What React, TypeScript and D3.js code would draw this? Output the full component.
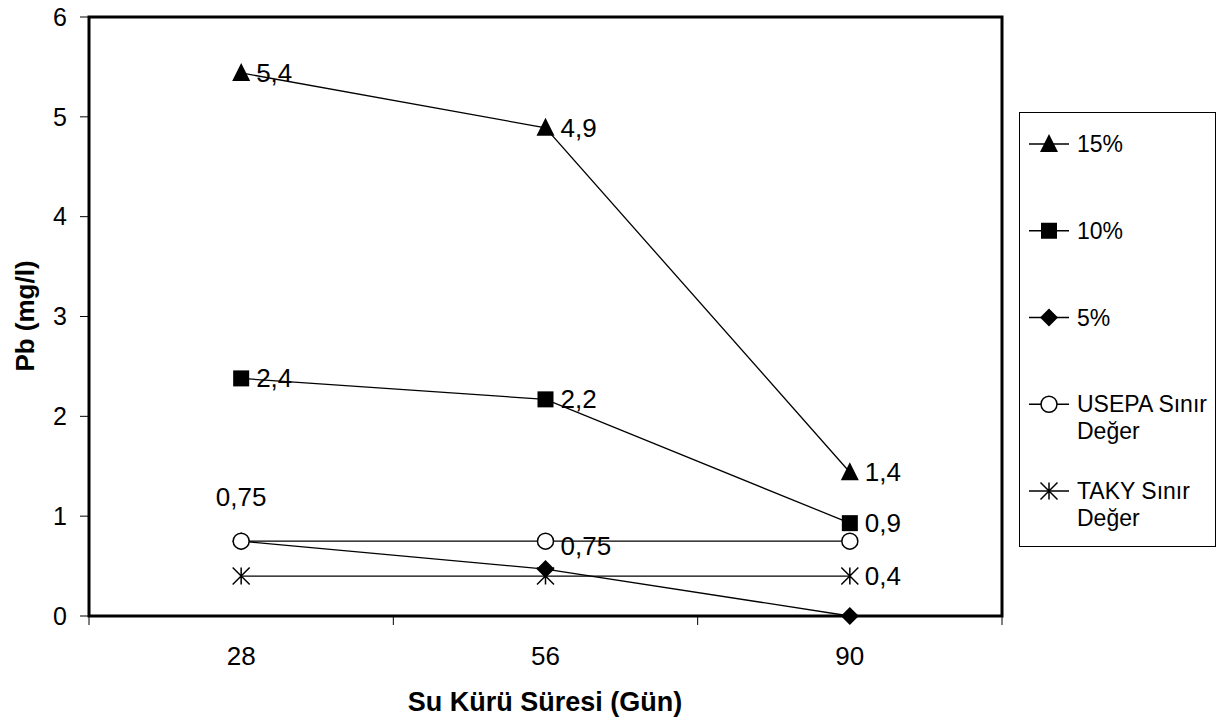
import React, { useEffect, useRef } from "react";
import * as d3 from "d3";

// Su kürü süreleri (gün)
const days = ["28", "56", "90"];
const yTicks = [0, 1, 2, 3, 4, 5, 6];

const pb15 = [5.44, 4.89, 1.44];
const pb10 = [2.38, 2.17, 0.93];
const pb5 = [0.75, 0.47, 0.0];
const usepa = [0.75, 0.75, 0.75];
const taky = [0.4, 0.4, 0.4];

const labels15 = ["5,4", "4,9", "1,4"];
const labels10 = ["2,4", "2,2", "0,9"];
const labelsUsepa = ["0,75", "0,75", ""];
const labelsTaky = ["", "", "0,4"];

const legendNames = ["15%", "10%", "5%", "USEPA Sınır|Değer", "TAKY Sınır|Değer"];

const FONT = "'Liberation Sans', Arial, sans-serif";

const App = () => {
  const svgRef: any = useRef();

  useEffect(() => {
    const svg = d3.select(svgRef.current);
    svg.selectAll("*").remove();
    const width = 1218;
    const height = 720;
    const margin = { top: 17, right: 216, bottom: 104, left: 89 };
    svg.attr("width", width).attr("height", height);

    const x = d3
      .scaleBand()
      .domain(days)
      .range([margin.left, width - margin.right]);
    const y = d3
      .scaleLinear()
      .domain([0, 6])
      .range([height - margin.bottom, margin.top]);
    const cx = (d: string) => (x(d) as number) + x.bandwidth() / 2;

    // y axis ticks + labels
    const yAxis = svg.append("g");
    yTicks.forEach((t) => {
      yAxis
        .append("line")
        .attr("x1", margin.left - 9)
        .attr("x2", margin.left)
        .attr("y1", y(t))
        .attr("y2", y(t))
        .attr("stroke", "#000")
        .attr("stroke-width", 1);
      yAxis
        .append("text")
        .attr("x", margin.left - 22)
        .attr("y", y(t))
        .attr("dy", "0.35em")
        .attr("text-anchor", "end")
        .attr("font-family", FONT)
        .attr("font-size", 25)
        .text(t);
    });

    // x axis ticks (band edges) + labels
    const edges = days.map((d) => x(d) as number).concat([width - margin.right]);
    edges.forEach((e) => {
      svg
        .append("line")
        .attr("x1", e)
        .attr("x2", e)
        .attr("y1", y(0))
        .attr("y2", y(0) + 9)
        .attr("stroke", "#000")
        .attr("stroke-width", 1);
    });
    days.forEach((d) => {
      svg
        .append("text")
        .attr("x", cx(d))
        .attr("y", y(0) + 40)
        .attr("dy", "0.35em")
        .attr("text-anchor", "middle")
        .attr("font-family", FONT)
        .attr("font-size", 26)
        .text(d);
    });

    // plot frame
    svg
      .append("rect")
      .attr("x", margin.left)
      .attr("y", margin.top)
      .attr("width", width - margin.right - margin.left)
      .attr("height", y(0) - margin.top)
      .attr("fill", "none")
      .attr("stroke", "#000")
      .attr("stroke-width", 3);

    // axis titles
    svg
      .append("text")
      .attr("x", 545)
      .attr("y", 702)
      .attr("dy", "0.35em")
      .attr("text-anchor", "middle")
      .attr("font-family", FONT)
      .attr("font-weight", "bold")
      .attr("font-size", 27)
      .text("Su Kürü Süresi (Gün)");
    svg
      .append("text")
      .attr("transform", `translate(25,316) rotate(-90)`)
      .attr("dy", "0.35em")
      .attr("text-anchor", "middle")
      .attr("font-family", FONT)
      .attr("font-weight", "bold")
      .attr("font-size", 26)
      .text("Pb (mg/l)");

    // markers
    const marker = (g: any, kind: string, px: number, py: number) => {
      if (kind === "triangle") {
        g.append("path")
          .attr("d", `M${px},${py - 10}L${px + 9},${py + 8}L${px - 9},${py + 8}Z`)
          .attr("fill", "#000");
      } else if (kind === "square") {
        g.append("rect")
          .attr("x", px - 8)
          .attr("y", py - 8)
          .attr("width", 16)
          .attr("height", 16)
          .attr("fill", "#000");
      } else if (kind === "diamond") {
        g.append("path")
          .attr("d", `M${px},${py - 9}L${px + 9},${py}L${px},${py + 9}L${px - 9},${py}Z`)
          .attr("fill", "#000");
      } else if (kind === "circle") {
        g.append("circle")
          .attr("cx", px)
          .attr("cy", py)
          .attr("r", 8)
          .attr("fill", "#fff")
          .attr("stroke", "#000")
          .attr("stroke-width", 1.5);
      } else if (kind === "star") {
        const s = 8.5;
        g.append("path")
          .attr(
            "d",
            `M${px},${py - s}L${px},${py + s}M${px - s},${py - s}L${px + s},${py + s}M${px + s},${py - s}L${px - s},${py + s}`
          )
          .attr("stroke", "#000")
          .attr("stroke-width", 1.5)
          .attr("fill", "none");
      }
    };

    const line = d3
      .line<number>()
      .x((_, i) => cx(days[i]))
      .y((v) => y(v));

    const series = [
      { values: pb15, kind: "triangle", labels: labels15, pos: ["right", "right", "right"] },
      { values: pb10, kind: "square", labels: labels10, pos: ["right", "right", "right"] },
      { values: taky, kind: "star", labels: labelsTaky, pos: ["right", "right", "right"] },
      { values: pb5, kind: "diamond", labels: [], pos: [] },
      { values: usepa, kind: "circle", labels: labelsUsepa, pos: ["above", "right", "right"] },
    ];

    const plot = svg.append("g");
    series.forEach((s) => {
      plot
        .append("path")
        .datum(s.values)
        .attr("d", line)
        .attr("fill", "none")
        .attr("stroke", "#000")
        .attr("stroke-width", 1.3);
      s.values.forEach((v, i) => marker(plot, s.kind, cx(days[i]), y(v)));
    });

    // data labels
    series.forEach((s) => {
      s.labels.forEach((lab: string, i: number) => {
        if (!lab) return;
        const above = s.pos[i] === "above";
        svg
          .append("text")
          .attr("x", above ? cx(days[i]) : cx(days[i]) + 15)
          .attr("y", above ? y(s.values[i]) - 44 : y(s.values[i]) + (s.values === usepa ? 5 : 0))
          .attr("dy", "0.35em")
          .attr("text-anchor", above ? "middle" : "start")
          .attr("font-family", FONT)
          .attr("font-size", 26)
          .text(lab);
      });
    });

    // legend
    const lg = svg.append("g");
    lg.append("rect")
      .attr("x", 1019.5)
      .attr("y", 112.5)
      .attr("width", 196)
      .attr("height", 434)
      .attr("fill", "#fff")
      .attr("stroke", "#000")
      .attr("stroke-width", 1);
    const legendKinds = ["triangle", "square", "diamond", "circle", "star"];
    const legendY = d3
      .scalePoint()
      .domain(legendNames)
      .range([144, 491]);
    legendNames.forEach((name, i) => {
      const ly = legendY(name) as number;
      lg.append("line")
        .attr("x1", 1029)
        .attr("x2", 1069)
        .attr("y1", ly)
        .attr("y2", ly)
        .attr("stroke", "#000")
        .attr("stroke-width", 1.3);
      marker(lg, legendKinds[i], 1049, ly);
      name.split("|").forEach((part, j) => {
        lg.append("text")
          .attr("x", 1077)
          .attr("y", ly + j * 27)
          .attr("dy", "0.35em")
          .attr("font-family", FONT)
          .attr("font-size", 23)
          .text(part);
      });
    });
  }, []);

  return (
    <svg
      ref={svgRef}
      style={{ position: "absolute", left: 0, top: 0, background: "#fff" }}
    ></svg>
  );
};

export default App;
